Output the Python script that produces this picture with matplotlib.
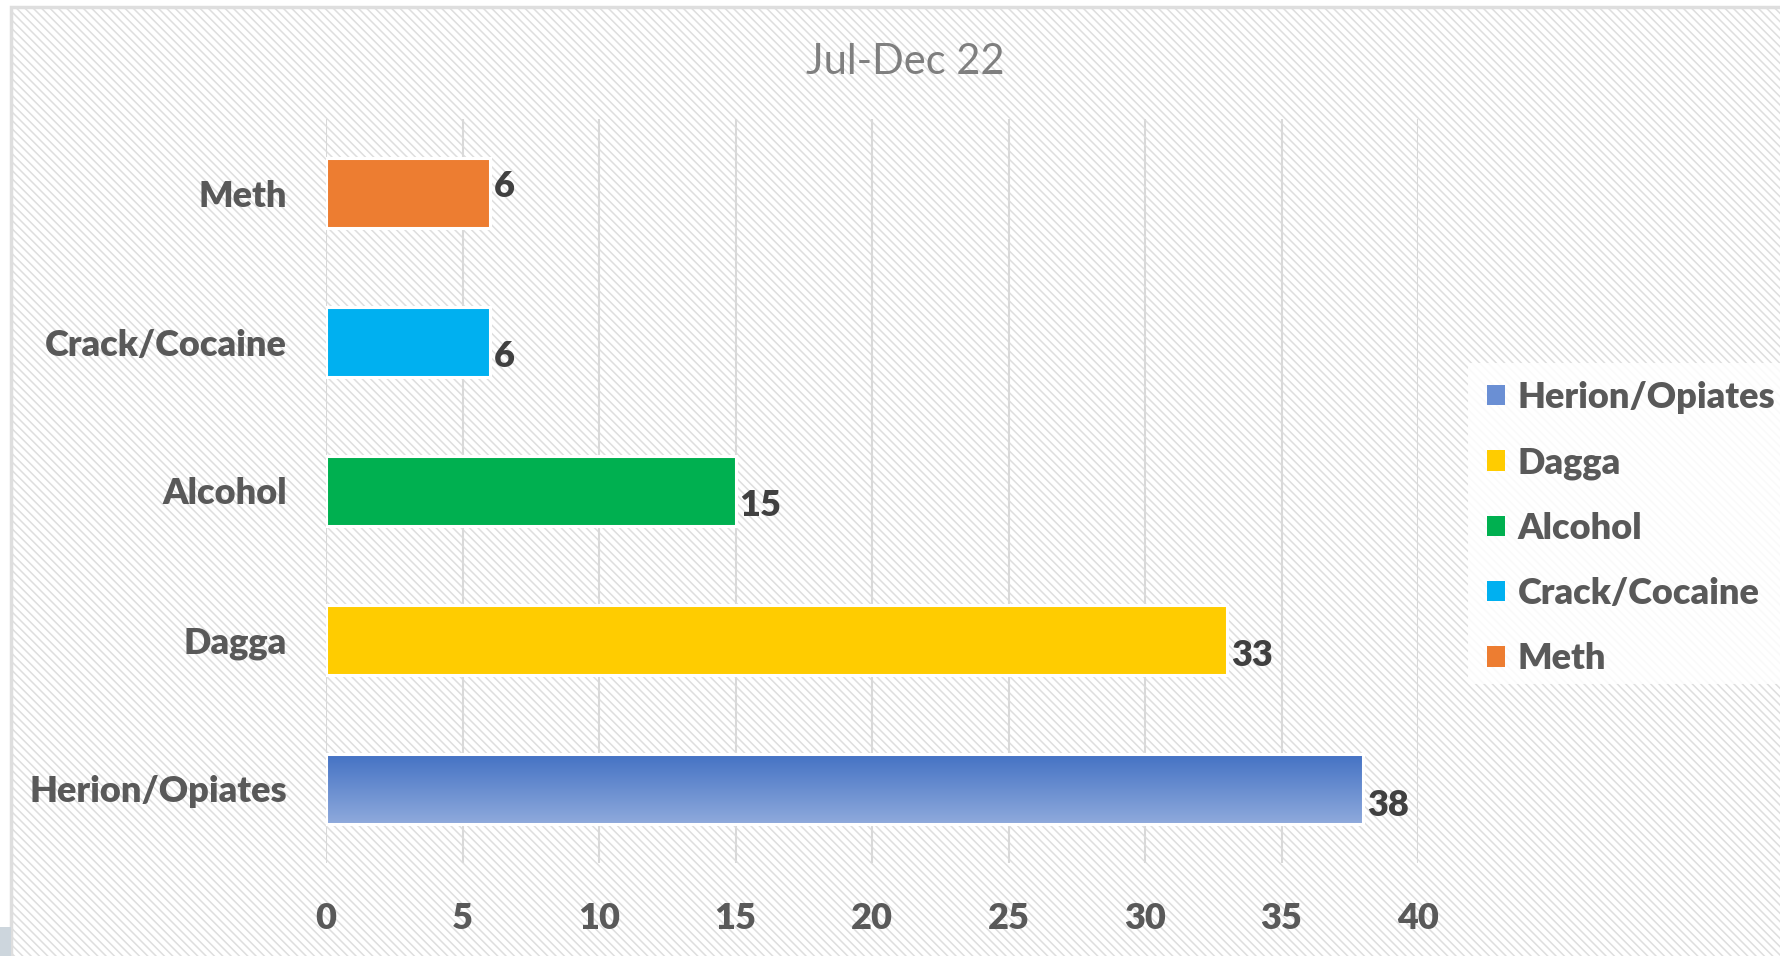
import matplotlib
matplotlib.use("Agg")
import matplotlib.pyplot as plt
from matplotlib.patches import Rectangle, Patch
from matplotlib.colors import LinearSegmentedColormap
import numpy as np

# data (bottom to top, as drawn)
categories = ["Herion/Opiates", "Dagga", "Alcohol", "Crack/Cocaine", "Meth"]
values = [38, 33, 15, 6, 6]
bar_colors = ["#4472C4", "#FFCC00", "#00B050", "#00B0F0", "#ED7D31"]
label_nudge = [17, 16, 14, 14, -7]  # px, data labels sit a bit off centre in the original
x_ticks = [0, 5, 10, 15, 20, 25, 30, 35, 40]
title = "Jul-Dec 22"

TEXT = "#595959"
LABEL = "#404040"
GRID = "#d9d9d9"
FONT = ["Lato", "DejaVu Sans"]
WEIGHT = "heavy"
FS = 26

plt.rcParams["font.family"] = FONT
plt.rcParams["hatch.linewidth"] = 1.1

W, H = 1780, 956
fig = plt.figure(figsize=(W / 100, H / 100), dpi=100)
fig.patch.set_facecolor("white")

# hatched chart area with a light border
bg = Rectangle((11 / W, -0.02), 1.1, 1 - 7 / H + 0.02, transform=fig.transFigure,
               facecolor="white", edgecolor="#dedede", hatch="\\\\\\\\", linewidth=2.5, zorder=0)
fig.add_artist(bg)
fig.add_artist(Rectangle((0, 0), 11 / W, 29 / H, transform=fig.transFigure,
                         facecolor="#cdd6dd", edgecolor="none", zorder=1))

# plot area in pixels
left, right, top, bottom = 326, 1418, 119, 863
ax = fig.add_axes([left / W, 1 - bottom / H, (right - left) / W, (bottom - top) / H])
ax.set_facecolor("none")
ax.set_zorder(2)

y = np.arange(len(categories))
bars = ax.barh(y, values, height=0.47, color=bar_colors, edgecolor="white", linewidth=2.2, zorder=3)

# gradient for the first bar
b0 = bars[0]
grad = np.linspace(0, 1, 256).reshape(-1, 1)
cmap = LinearSegmentedColormap.from_list("blu", ["#4472C4", "#8FAADC"])
x0, y0 = b0.get_x(), b0.get_y()
img = ax.imshow(grad, cmap=cmap, aspect="auto", origin="upper",
                extent=[x0, x0 + b0.get_width(), y0, y0 + b0.get_height()], zorder=3.5)
img.set_clip_path(b0)
ax.barh([y[0]], [values[0]], height=0.47, fill=False, edgecolor="white", linewidth=2.2, zorder=4)

ax.set_xlim(0, 40)
ax.set_ylim(-0.5, len(categories) - 0.5)
ax.set_xticks(x_ticks)
ax.set_yticks(y)
ax.set_yticklabels(categories)
ax.grid(axis="x", color=GRID, linewidth=1.5, zorder=1)
ax.set_axisbelow(True)
for s in ax.spines.values():
    s.set_visible(False)
ax.tick_params(axis="both", length=0, colors=TEXT, labelsize=FS)
ax.tick_params(axis="x", pad=28)
ax.tick_params(axis="y", pad=28)
for t in ax.get_xticklabels() + ax.get_yticklabels():
    t.set_fontweight(WEIGHT)

for yi, v, dy in zip(y, values, label_nudge):
    ax.annotate(str(v), (v, yi), xytext=(3, -dy * 0.72), textcoords="offset points",
                ha="left", va="center", fontsize=FS, fontweight=WEIGHT, color=LABEL, zorder=5)

fig.text(905 / W, 1 - 62 / H, title, ha="center", va="center", fontsize=30, color="#7f7f7f")

# legend on a white panel
fig.add_artist(Rectangle((1468 / W, 1 - 684 / H), 0.3, (684 - 363) / H, transform=fig.transFigure,
                         facecolor="white", edgecolor="none", alpha=0.85, zorder=1))
handles = [Patch(facecolor="#6a8fd4" if i == 0 else c, edgecolor="none")
           for i, c in enumerate(bar_colors)]
leg = fig.legend(handles, categories, loc="upper left", bbox_to_anchor=(1487 / W, 1 - 381 / H),
                 frameon=False, fontsize=FS, handlelength=0.5, handleheight=0.5,
                 handletextpad=0.35, labelspacing=0.89, borderpad=0, borderaxespad=0)
for t in leg.get_texts():
    t.set_fontweight(WEIGHT)
    t.set_color(TEXT)

fig.savefig("out.png", dpi=100)
